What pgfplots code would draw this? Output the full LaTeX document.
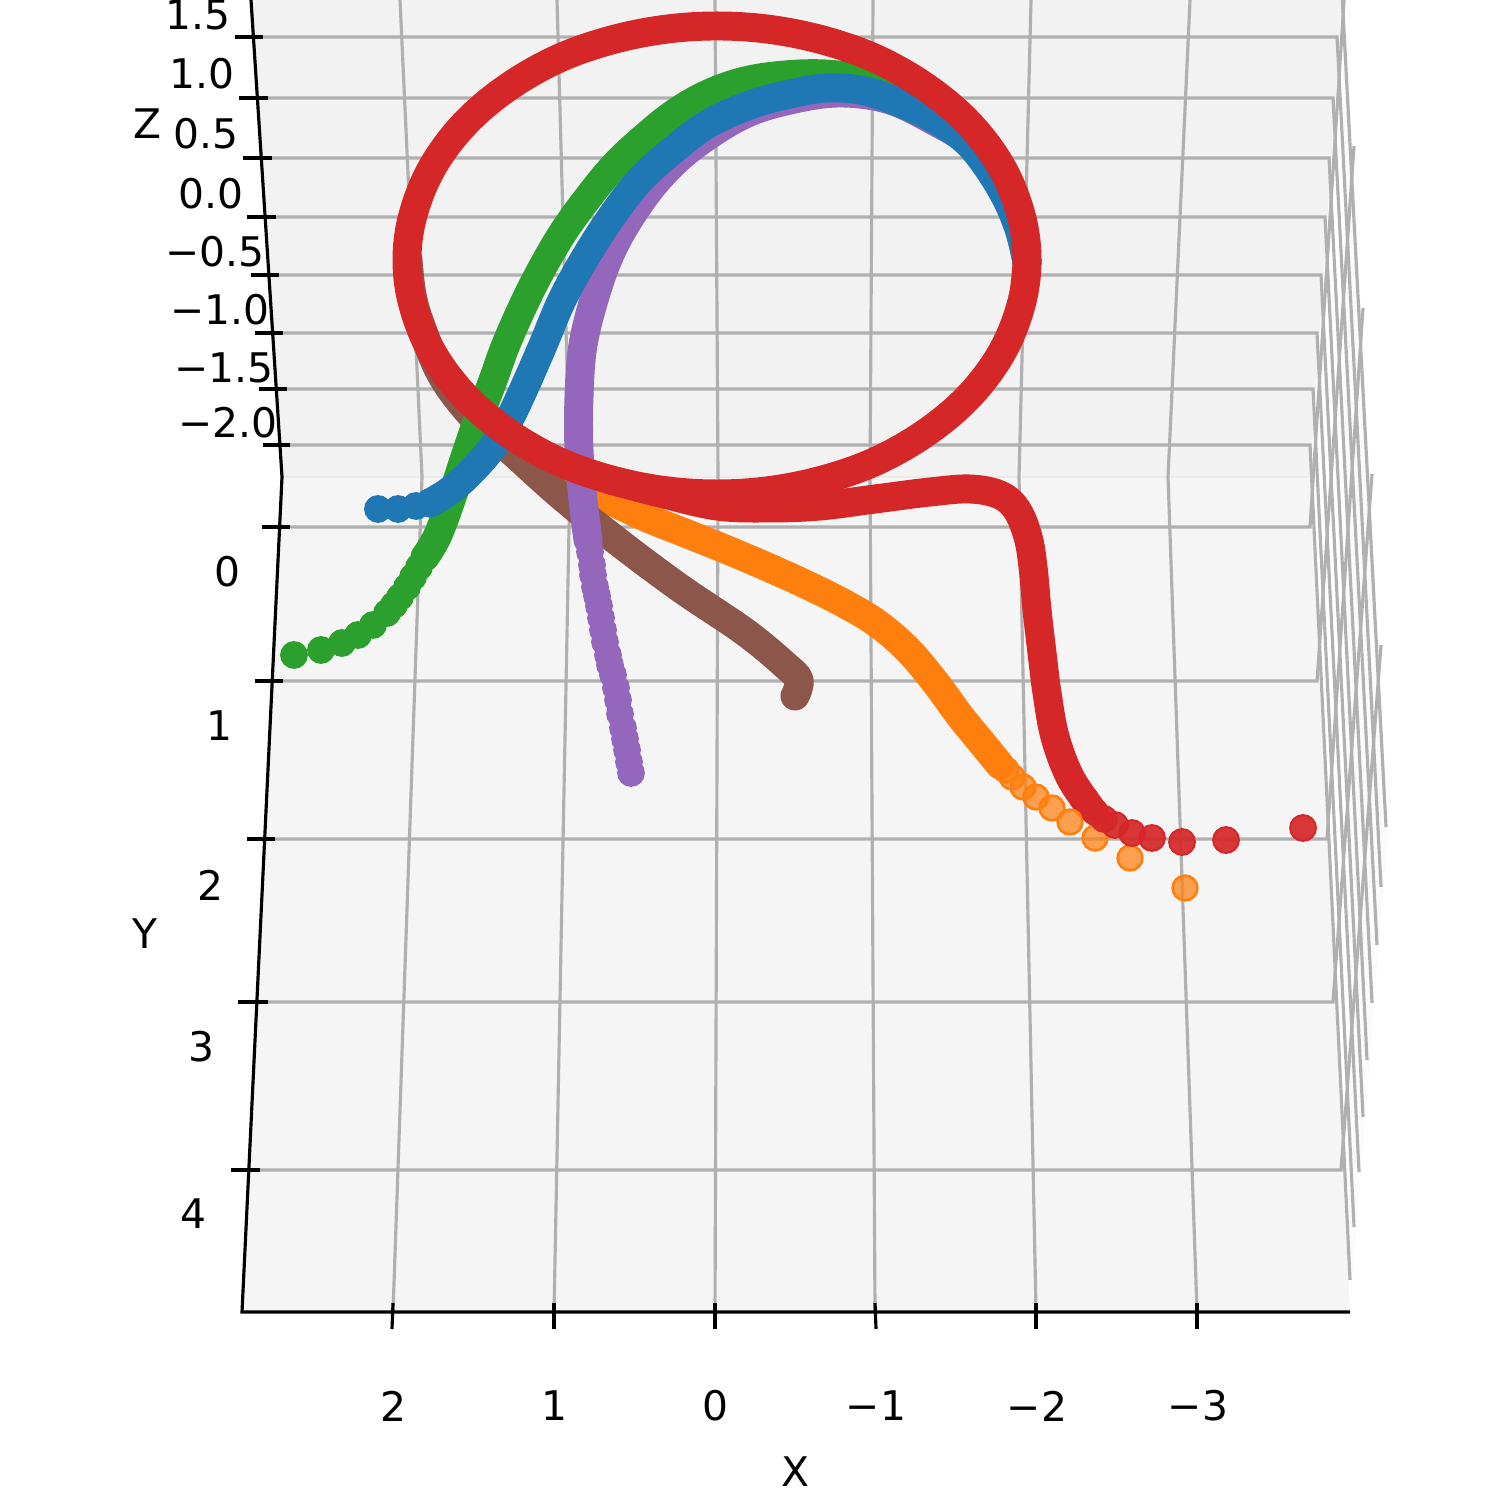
\documentclass[border=0pt]{standalone}
\usepackage{fontspec}
\setmainfont{DejaVu Sans}
\usepackage{pgfplots}
\pgfplotsset{compat=1.18}
\definecolor{tabblue}{HTML}{1F77B4}
\definecolor{taborange}{HTML}{FF7F0E}
\definecolor{tabgreen}{HTML}{2CA02C}
\definecolor{tabred}{HTML}{D62728}
\definecolor{tabpurple}{HTML}{9467BD}
\definecolor{tabbrown}{HTML}{8C564B}
\definecolor{gridc}{HTML}{B0B0B0}
\definecolor{wallc}{HTML}{F2F2F2}
\definecolor{floorc}{HTML}{F5F5F5}
\definecolor{sidec}{HTML}{FBFBFB}
\tikzset{lab/.style={font=\fontsize{7.75}{10}\selectfont,text=black,inner sep=0pt,anchor=center}}
\pgfplotsset{
  grd/.style={draw=gridc,line width=0.6pt,no markers,line join=miter},
  blk/.style={draw=black,line width=0.6pt,no markers},
  band/.style={no markers,smooth,tension=0.6,line width=5.5pt,line cap=round,line join=round},
  dots/.style={only marks,mark=*,mark size=2.45pt},
}
\begin{document}
\begin{tikzpicture}
\useasboundingbox (0,0) rectangle (10cm,10cm);
\begin{axis}[
  at={(0,0)},anchor=south west,
  scale only axis,width=10cm,height=10cm,
  xmin=0,xmax=1498,ymin=0,ymax=1498,y dir=reverse,
  axis lines=none,
  clip=true,
  every axis plot/.append style={forget plot},
]
% panes
\addplot[fill=sidec,draw=none] coordinates {(1342,0) (1345,0) (1388,830) (1350,1312)} --cycle;
\addplot[fill=wallc,draw=none] coordinates {(250,0) (1342,0) (1310,477) (282,477)} --cycle;
\addplot[fill=floorc,draw=none] coordinates {(282,477) (1310,477) (1350,1312) (242,1312)} --cycle;
\addplot[draw=wallc!97!black,line width=0.5pt,no markers] coordinates {(283,477) (1308,477)};
% grid: back wall z lines and continuation on the side wall
\addplot[grd] coordinates {(263,37) (1337,37) (1381,887)};
\addplot[grd] coordinates {(268,98) (1333,98) (1377,945)};
\addplot[grd] coordinates {(272,158) (1329,158) (1372,1003)};
\addplot[grd] coordinates {(276,217) (1325,217) (1367,1060)};
\addplot[grd] coordinates {(279,275) (1321,275) (1363,1117)};
\addplot[grd] coordinates {(283,333) (1317,333) (1359,1172)};
\addplot[grd] coordinates {(287,389) (1313,389) (1354,1227)};
\addplot[grd] coordinates {(290,445) (1310,445) (1350,1280)};
\addplot[grd] coordinates {(1341,-25) (1386,827)};
% grid: floor y lines and continuation on the side wall
\addplot[grd] coordinates {(290,527) (1310,527) (1345,-15)};
\addplot[grd] coordinates {(283,681) (1317,681) (1354,146)};
\addplot[grd] coordinates {(275,839) (1327,839) (1363,308)};
\addplot[grd] coordinates {(268,1002) (1333,1002) (1372,474)};
\addplot[grd] coordinates {(260,1170) (1341,1170) (1381,645)};
% grid: x lines
\addplot[grd] coordinates {(400,0) (422,477) (393,1312)};
\addplot[grd] coordinates {(557,0) (570,477) (554,1312)};
\addplot[grd] coordinates {(715,0) (718,477) (715,1312)};
\addplot[grd] coordinates {(873,0) (870,477) (875,1312)};
\addplot[grd] coordinates {(1031,0) (1019,477) (1036,1312)};
\addplot[grd] coordinates {(1190,0) (1168,477) (1197,1312)};
% axes
\addplot[blk] coordinates {(251,0) (282,477) (242,1312) (1350,1312)};
% ticks
\addplot[blk] coordinates {(235,37) (263,37)};
\addplot[blk] coordinates {(239,98) (268,98)};
\addplot[blk] coordinates {(243,158) (272,158)};
\addplot[blk] coordinates {(247,217) (276,217)};
\addplot[blk] coordinates {(251,275) (279,275)};
\addplot[blk] coordinates {(255,333) (283,333)};
\addplot[blk] coordinates {(259,389) (287,389)};
\addplot[blk] coordinates {(263,445) (290,445)};
\addplot[blk] coordinates {(262,527) (290,527)};
\addplot[blk] coordinates {(255,681) (283,681)};
\addplot[blk] coordinates {(247,839) (275,839)};
\addplot[blk] coordinates {(238,1002) (268,1002)};
\addplot[blk] coordinates {(231,1170) (260,1170)};
\addplot[blk] coordinates {(393,1303) (392,1329)};
\addplot[blk] coordinates {(554,1303) (554,1329)};
\addplot[blk] coordinates {(715,1303) (715,1329)};
\addplot[blk] coordinates {(875,1303) (876,1329)};
\addplot[blk] coordinates {(1036,1303) (1036,1329)};
\addplot[blk] coordinates {(1197,1303) (1197,1329)};
% orange
\addplot[band,draw=taborange] coordinates {(1000,765) (982,743) (960,716) (935,682) (908,650) (878,624) (845,604) (805,584) (765,566) (725,549) (685,533) (645,517) (605,498) (560,476)};
\addplot[dots,mark size=2.35pt,mark options={draw=taborange,fill=taborange,fill opacity=0.72,line width=0.5pt}] coordinates {(1185,888) (1130,858) (1095,838) (1070,822) (1052,808) (1036,797) (1023,787) (1012,777) (1006,770) (1000,765) (994,757) (988,751)};
% brown
\addplot[band,draw=tabbrown] coordinates {(408,260) (412,295) (421,326) (442,376) (474,418) (509,449) (560,495) (617,541) (680,588) (745,632) (785,665) (799,680) (795,696)};
% green
\addplot[band,draw=tabgreen] coordinates {(425,557) (437,537) (450,503) (463,463) (477,422) (492,383) (505,347) (522,308) (540,272) (562,234) (587,199) (615,165) (645,137) (675,113) (708,94) (745,81) (785,75) (825,74) (862,79) (897,90) (936,108) (970,140) (1000,185) (1018,225) (1027,262)};
\addplot[dots,mark options={draw=tabgreen,fill=tabgreen,line width=0.38pt}] coordinates {(294,655) (321,650) (342,643) (358,635) (373,625) (387,613) (394,605) (400,597) (407,587) (413,577) (419,567) (425,557) (431,547) (437,537)};
% purple
\addplot[band,draw=tabpurple] coordinates {(588,540) (583,500) (579,450) (579,397) (583,345) (596,293) (612,250) (635,210) (662,175) (695,145) (743,115) (790,100) (840,93) (890,100) (936,122) (976,146) (992,167) (1006,192) (1019,222) (1027,262)};
\addplot[dots,mark options={draw=tabpurple,fill=tabpurple,line width=0.38pt}] coordinates {(631,773) (629,762) (627,750) (625,739) (623,728) (620,714) (618,700) (616,688) (613,675) (610,665) (608,655) (605,642) (603,630) (601,618) (599,606) (597,596) (595,587) (593,575) (592,565) (590,552) (588,540) (586,527)};
% blue
\addplot[band,draw=tabblue] coordinates {(430,503) (448,492) (468,475) (492,448) (510,418) (526,384) (543,345) (562,300) (585,258) (612,216) (640,180) (672,151) (708,124) (750,105) (790,94) (827,88) (865,91) (900,103) (936,120) (970,145) (1000,187) (1018,226) (1027,262)};
\addplot[dots,mark options={draw=tabblue,fill=tabblue,line width=0.38pt}] coordinates {(378,509) (398,509) (416,506) (430,502)};
% red
\addplot[band,draw=tabred] coordinates {(1090,807) (1070,777) (1055,737) (1047,693) (1042,653) (1037,610) (1033,567) (1028,537) (1017,510) (1000,495) (970,489) (930,492) (875,499) (820,506) (770,508) (717,506) (660,493) (610,480)};
\addplot[no markers,smooth,tension=0.6,line width=5.5pt,draw=tabred] coordinates {(1024.3,229.5) (1027,260) (1024.3,290.5) (1016,321) (1003.4,349.6) (985.5,377) (963,402.5) (936,425.5) (905.7,445.7) (872,463) (835.6,476.2) (797,486) (757.5,492) (717,494) (676.5,492) (637,486) (598.4,476.2) (562,463) (528.3,445.7) (498,425.5) (471,402.5) (448.5,377) (430.6,349.6) (418,321) (409.7,290.5) (407,260) (409.7,229.5) (418,199) (430.6,170.4) (448.5,143) (471,117.5) (498,94.5) (528.3,74.3) (562,57) (598.4,43.8) (637,34) (676.5,28) (717,26) (757.5,28) (797,34) (835.6,43.8) (872,57) (905.7,74.3) (936,94.5) (963,117.5) (985.5,143) (1003.4,170.4) (1016,199) (1024.3,229.5) (1027,260) (1024.3,290.5)};
\addplot[dots,mark options={draw=tabred,fill=tabred,fill opacity=0.92,line width=0.38pt}] coordinates {(1303,828) (1226,840) (1182,842) (1152,838) (1132,833) (1115,825) (1104,819) (1095,812) (1085,799) (1077,788)};
% labels
\node[lab] at (axis cs:198,15) {1.5};
\node[lab] at (axis cs:202,74) {1.0};
\node[lab] at (axis cs:206,134) {0.5};
\node[lab] at (axis cs:211,194) {0.0};
\node[lab] at (axis cs:215,252) {−0.5};
\node[lab] at (axis cs:220,310) {−1.0};
\node[lab] at (axis cs:224,368) {−1.5};
\node[lab] at (axis cs:228,423) {−2.0};
\node[lab] at (axis cs:227,572) {0};
\node[lab] at (axis cs:219,726) {1};
\node[lab] at (axis cs:210,885) {2};
\node[lab] at (axis cs:201,1047) {3};
\node[lab] at (axis cs:193,1214) {4};
\node[lab] at (axis cs:393,1406) {2};
\node[lab] at (axis cs:554,1406) {1};
\node[lab] at (axis cs:715,1406) {0};
\node[lab] at (axis cs:876,1406) {−1};
\node[lab] at (axis cs:1037,1406) {−2};
\node[lab] at (axis cs:1198,1406) {−3};
\node[lab] at (axis cs:795,1472) {X};
\node[lab] at (axis cs:145,934) {Y};
\node[lab] at (axis cs:147,124) {Z};
\end{axis}
\end{tikzpicture}
\end{document}
